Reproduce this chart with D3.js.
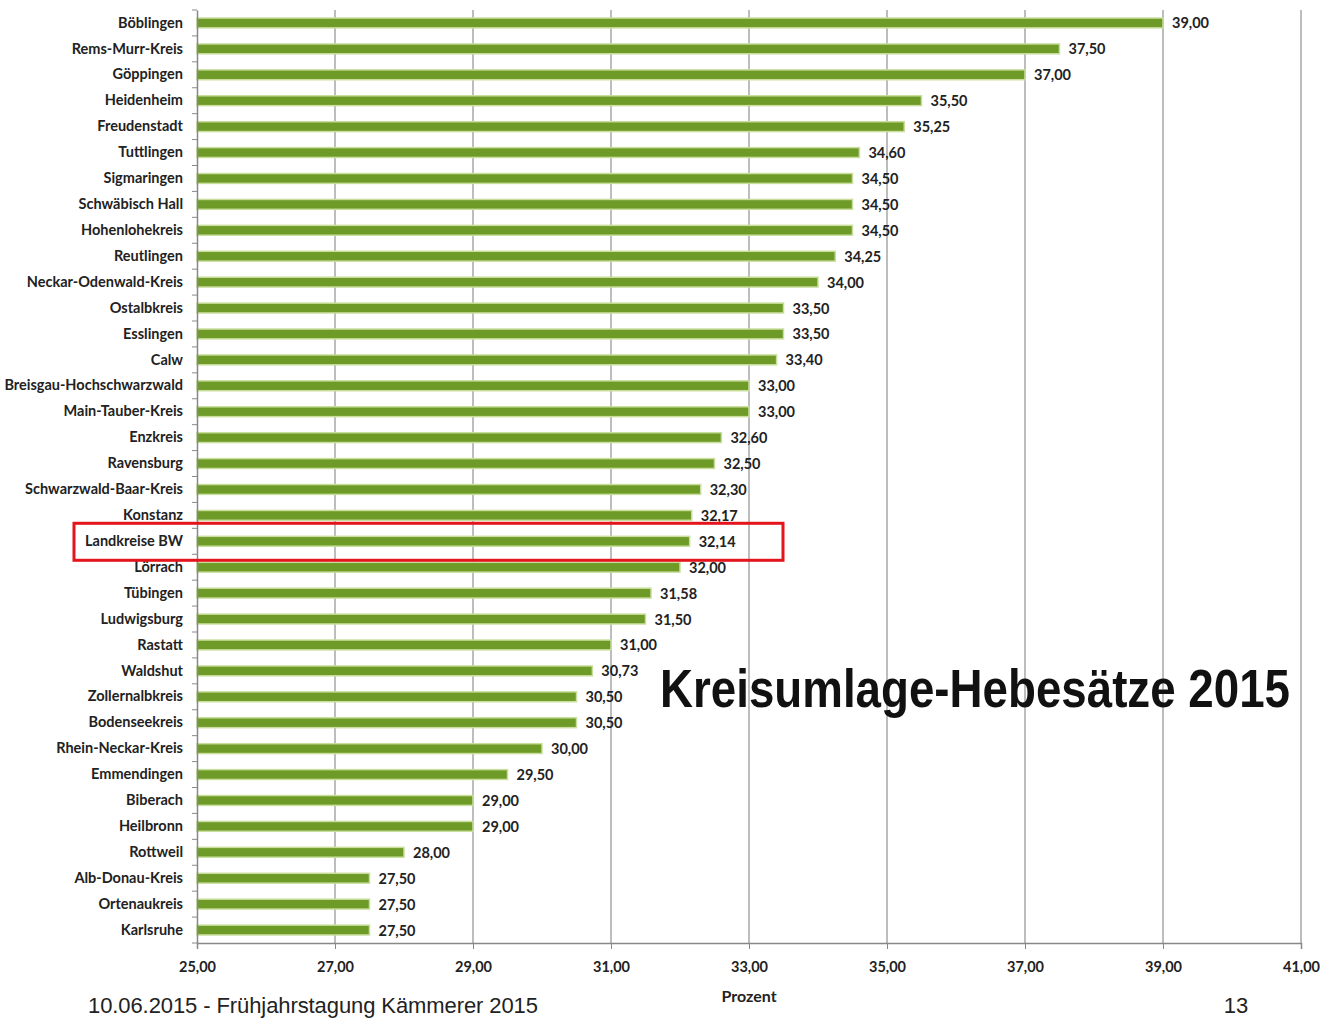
<!DOCTYPE html>
<html>
<head>
<meta charset="utf-8">
<script src="https://cdn.jsdelivr.net/npm/d3@7"></script>
<style>
  body { margin: 0; background: #fff; }
  svg { display: block; }
  .lbl { font-family: Lato, "Open Sans", sans-serif; font-weight: bold; fill: #222; }
</style>
</head>
<body>
<svg id="chart" width="1333" height="1021"></svg>
<script>
'use strict';

const kreise = ["Böblingen", "Rems-Murr-Kreis", "Göppingen", "Heidenheim", "Freudenstadt", "Tuttlingen",
  "Sigmaringen", "Schwäbisch Hall", "Hohenlohekreis", "Reutlingen", "Neckar-Odenwald-Kreis", "Ostalbkreis",
  "Esslingen", "Calw", "Breisgau-Hochschwarzwald", "Main-Tauber-Kreis", "Enzkreis", "Ravensburg",
  "Schwarzwald-Baar-Kreis", "Konstanz", "Landkreise BW", "Lörrach", "Tübingen", "Ludwigsburg", "Rastatt",
  "Waldshut", "Zollernalbkreis", "Bodenseekreis", "Rhein-Neckar-Kreis", "Emmendingen", "Biberach",
  "Heilbronn", "Rottweil", "Alb-Donau-Kreis", "Ortenaukreis", "Karlsruhe"];

const hebesaetze = [39.00, 37.50, 37.00, 35.50, 35.25, 34.60, 34.50, 34.50, 34.50, 34.25, 34.00, 33.50,
  33.50, 33.40, 33.00, 33.00, 32.60, 32.50, 32.30, 32.17, 32.14, 32.00, 31.58, 31.50, 31.00,
  30.73, 30.50, 30.50, 30.00, 29.50, 29.00, 29.00, 28.00, 27.50, 27.50, 27.50];

const xTicks = [25, 27, 29, 31, 33, 35, 37, 39, 41];
const highlight = "Landkreise BW";

const de = d3.formatLocale({ decimal: ",", thousands: ".", grouping: [3], currency: ["", " €"] });
const fmt = de.format(".2f");

const svg = d3.select("#chart");

const x = d3.scaleLinear().domain([25, 41]).range([197, 1301]);
const y = d3.scaleBand().domain(kreise).range([10, 943]).paddingInner(0.62).paddingOuter(0.31);

// vertical gridlines
svg.append("g")
  .selectAll("line")
  .data(xTicks.slice(1))
  .enter().append("line")
    .attr("x1", d => x(d)).attr("x2", d => x(d))
    .attr("y1", 10).attr("y2", 943)
    .attr("stroke", "#9a9a9a")
    .attr("stroke-width", 1.3);

// bars
svg.append("g")
  .selectAll("rect")
  .data(hebesaetze)
  .enter().append("rect")
    .attr("x", x(25))
    .attr("y", (d, i) => y(kreise[i]))
    .attr("width", d => x(d) - x(25))
    .attr("height", y.bandwidth())
    .attr("fill", "#6e9b28")
    .attr("stroke", "#c9de9c")
    .attr("stroke-width", 1.5);

// value labels
svg.append("g")
  .selectAll("text")
  .data(hebesaetze)
  .enter().append("text")
    .attr("class", "lbl")
    .attr("x", d => x(d) + 9)
    .attr("y", (d, i) => y(kreise[i]) + y.bandwidth() / 2)
    .attr("dy", "0.38em")
    .attr("font-size", 14.5)
    .text(d => fmt(d));

// y axis
const yAxis = svg.append("g")
  .attr("transform", "translate(" + x(25) + ",0)")
  .call(d3.axisLeft(y).tickSize(0).tickPadding(14));
yAxis.select(".domain").attr("stroke", "#888").attr("stroke-width", 1.5);
yAxis.selectAll("text").attr("class", "lbl").attr("font-size", 14.5);

// small separator ticks on y axis
svg.append("g")
  .selectAll("line")
  .data(d3.range(kreise.length + 1))
  .enter().append("line")
    .attr("x1", x(25) - 5).attr("x2", x(25))
    .attr("y1", i => 10 + i * y.step())
    .attr("y2", i => 10 + i * y.step())
    .attr("stroke", "#888");

// x axis
const xAxis = svg.append("g")
  .attr("transform", "translate(0,943)")
  .call(d3.axisBottom(x).tickValues(xTicks).tickSize(6).tickPadding(13).tickFormat(fmt));
xAxis.select(".domain").attr("stroke", "#888").attr("stroke-width", 1.5);
xAxis.selectAll(".tick line").attr("stroke", "#888");
xAxis.selectAll("text").attr("class", "lbl").attr("font-size", 14.5);

svg.append("text")
  .attr("class", "lbl")
  .attr("x", x(33))
  .attr("y", 1002)
  .attr("text-anchor", "middle")
  .attr("font-size", 16)
  .text("Prozent");

// highlight box
svg.append("rect")
  .attr("x", 74)
  .attr("y", y(highlight) + y.bandwidth() / 2 - 18)
  .attr("width", 709)
  .attr("height", 37)
  .attr("fill", "none")
  .attr("stroke", "#e3141b")
  .attr("stroke-width", 3);

// title
svg.append("text")
  .attr("x", 660)
  .attr("y", 707)
  .attr("font-family", "Liberation Sans, Arial, sans-serif")
  .attr("font-weight", "bold")
  .attr("font-size", 53)
  .attr("textLength", 630)
  .attr("lengthAdjust", "spacingAndGlyphs")
  .attr("fill", "#111")
  .text("Kreisumlage-Hebesätze 2015");

// footer
svg.append("text")
  .attr("x", 88)
  .attr("y", 1013)
  .attr("font-family", "Liberation Sans, Arial, sans-serif")
  .attr("font-size", 22)
  .attr("textLength", 450)
  .attr("fill", "#222")
  .text("10.06.2015 - Frühjahrstagung Kämmerer 2015");

svg.append("text")
  .attr("x", 1236)
  .attr("y", 1013)
  .attr("text-anchor", "middle")
  .attr("font-family", "Liberation Sans, Arial, sans-serif")
  .attr("font-size", 22)
  .attr("fill", "#222")
  .text("13");
</script>
</body>
</html>
